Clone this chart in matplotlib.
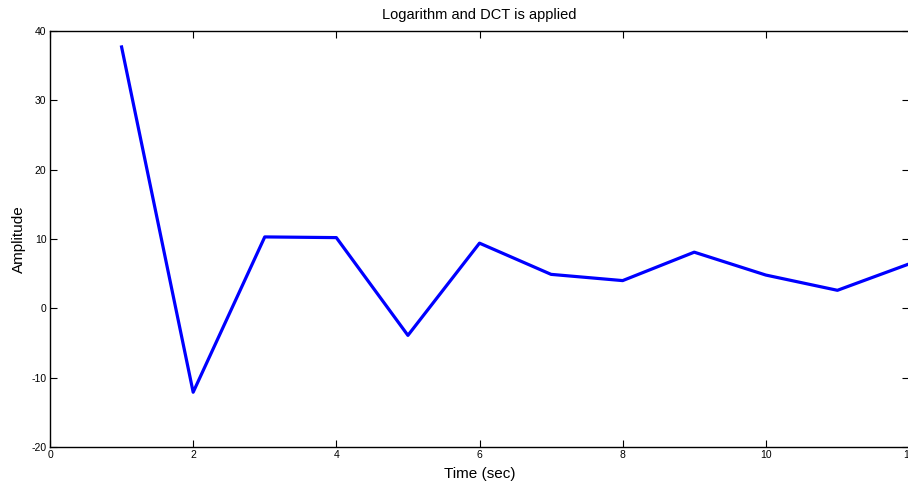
import matplotlib.pyplot as plt

plt.rcParams['font.family'] = ['Liberation Sans', 'DejaVu Sans']
plt.rcParams['axes.unicode_minus'] = False

# coefficient index and amplitude after log + DCT
frame = [1, 2, 3, 4, 5, 6, 7, 8, 9, 10, 11, 12]
amplitude = [37.7, -12.1, 10.3, 10.2, -3.9, 9.4, 4.9, 4.0, 8.1, 4.8, 2.6, 6.4]

fig = plt.figure(figsize=(9.08, 4.86), dpi=100)
ax = fig.add_axes([50 / 908, 39 / 486, 859 / 908, 416 / 486])

ax.plot(frame, amplitude, color='#0000ff', linewidth=2.3)

ax.set_xlim(0, 12)
ax.set_ylim(-20, 40)
ax.set_xticks(range(0, 13, 2))
ax.set_yticks(range(-20, 41, 10))
ax.tick_params(direction='in', length=5, width=0.8, labelsize=7.5,
               top=True, right=True, pad=2.5)
for s in ax.spines.values():
    s.set_linewidth(1.0)

ax.set_title('Logarithm and DCT is applied', fontsize=10.5, pad=9)
ax.set_xlabel('Time (sec)', fontsize=11, labelpad=5)
ax.set_ylabel('Amplitude', fontsize=11, labelpad=4)

fig.savefig('out.png', dpi=100)
